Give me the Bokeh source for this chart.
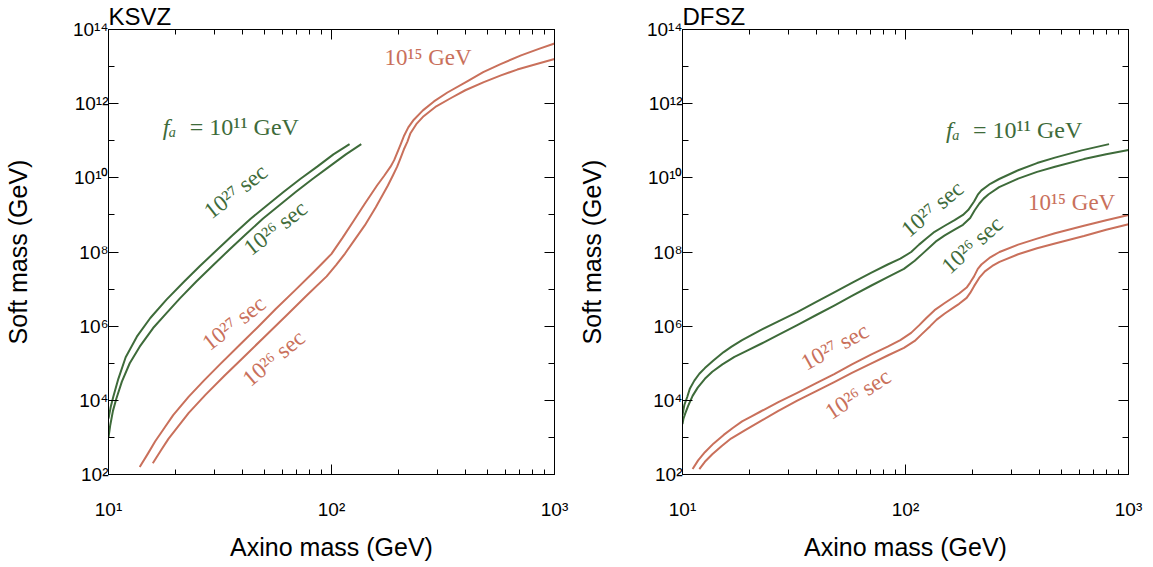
import math
from bokeh.plotting import figure
from bokeh.models import Range1d, LogAxis, FixedTicker, CustomJSTickFormatter, Label, Title
from bokeh.layouts import row
from bokeh.embed import file_html
from bokeh.resources import INLINE

GREEN = "#3e6b3a"
ORANGE = "#c9705b"

# ---------------- data (axino mass GeV, soft mass GeV) ----------------
# KSVZ, f_a = 1e11 GeV
ksvz_g27_mass = [10.0, 10.23, 10.5, 11.07, 11.94, 13.4, 15.4, 18.2, 21.8, 25.7, 30.7, 36.3, 43.4, 51.3, 61.1, 72.4, 86.3, 102, 120.5]
ksvz_g27_soft = [3.2e3, 6.6e3, 1.23e4, 3.8e4, 1.45e5, 5.2e5, 1.66e6, 5.2e6, 1.58e7, 4.2e7, 1.15e8, 2.95e8, 7.9e8, 1.8e9, 4.2e9, 9.3e9, 2.0e10, 4.3e10, 8.1e10]
ksvz_g26_mass = [10.0, 10.19, 10.47, 10.84, 11.48, 12.45, 13.8, 15.85, 18.2, 20.9, 24.7, 29.2, 34.8, 41.2, 49.2, 58.2, 69.3, 82.2, 97.7, 116, 136]
ksvz_g26_soft = [1.0e3, 2.2e3, 5.2e3, 1.1e4, 3.2e4, 1.0e5, 2.8e5, 8.9e5, 2.24e6, 5.6e6, 1.58e7, 4.2e7, 1.15e8, 2.95e8, 7.9e8, 1.8e9, 4.2e9, 9.3e9, 2.0e10, 4.3e10, 8.1e10]
# KSVZ, f_a = 1e15 GeV
ksvz_o27_mass = [13.8, 15.0, 16.2, 17.8, 19.5, 22.9, 26.9, 31.6, 38.5, 46.8, 56.2, 68.4, 83.2, 93.3, 100, 112, 126, 141, 160, 172, 184, 191, 197, 204, 211, 221, 234, 257, 288, 331, 406, 479, 573, 708, 851, 1000]
ksvz_o27_soft = [1.6e2, 3.6e2, 7.9e2, 1.8e3, 4.0e3, 1.26e4, 3.5e4, 9.3e4, 3.0e5, 9.5e5, 2.9e6, 9.1e6, 2.9e7, 5.8e7, 8.9e7, 2.4e8, 7.1e8, 2.0e9, 6.2e9, 1.12e10, 2.0e10, 3.0e10, 4.7e10, 7.9e10, 1.32e11, 2.3e11, 3.7e11, 6.6e11, 1.15e12, 2.0e12, 4.0e12, 7.1e12, 1.17e13, 2.0e13, 3.0e13, 4.2e13]
ksvz_o26_mass = [15.8, 17.2, 18.6, 20.7, 22.9, 27.2, 33.1, 39.8, 50.1, 63.1, 77.6, 95.1, 105, 115, 126, 141, 158, 179, 188, 197, 204, 211, 219, 226, 240, 259, 295, 342, 398, 482, 575, 681, 832, 1000]
ksvz_o26_soft = [2.0e2, 4.5e2, 9.3e2, 2.1e3, 4.6e3, 1.4e4, 4.6e4, 1.35e5, 5.2e5, 2.0e6, 6.8e6, 2.2e7, 4.5e7, 9.1e7, 2.0e8, 5.2e8, 1.6e9, 6.2e9, 1.12e10, 2.0e10, 3.4e10, 5.8e10, 9.5e10, 1.6e11, 2.8e11, 4.6e11, 8.5e11, 1.4e12, 2.3e12, 3.8e12, 5.8e12, 8.3e12, 1.17e13, 1.6e13]

# DFSZ, f_a = 1e11 GeV
dfsz_g27_mass = [10.0, 10.1, 10.2, 10.5, 10.8, 11.3, 11.9, 12.6, 13.8, 15.3, 16.6, 18.5, 22.4, 26.9, 32.7, 39.8, 47.9, 57.5, 70.0, 83.2, 94.8, 106, 115, 124, 135, 150, 166, 181, 191, 203, 211, 219, 240, 263, 320, 389, 468, 617, 818]
dfsz_g27_soft = [4.0e3, 5.6e3, 7.6e3, 1.23e4, 2.1e4, 3.4e4, 5.2e4, 7.4e4, 1.2e5, 2.0e5, 2.8e5, 4.2e5, 7.8e5, 1.35e6, 2.4e6, 4.5e6, 8.1e6, 1.48e7, 2.75e7, 4.6e7, 6.6e7, 1.0e8, 1.58e8, 2.3e8, 3.5e8, 5.1e8, 7.2e8, 1.0e9, 1.35e9, 2.3e9, 3.5e9, 4.6e9, 6.9e9, 9.3e9, 1.6e10, 2.5e10, 3.5e10, 5.5e10, 8.1e10]
dfsz_g26_mass = [10.0, 10.1, 10.3, 10.6, 11.1, 11.7, 12.6, 13.6, 15.1, 17.1, 19.5, 22.4, 26.9, 32.7, 39.8, 47.9, 57.5, 70.0, 83.2, 98.4, 110, 119, 129, 138, 150, 166, 181, 195, 204, 214, 224, 236, 263, 320, 389, 468, 631, 794, 1000]
dfsz_g26_soft = [2.3e3, 3.2e3, 4.5e3, 7.1e3, 1.32e4, 2.2e4, 3.8e4, 5.9e4, 9.3e4, 1.48e5, 2.2e5, 3.3e5, 5.8e5, 1.07e6, 2.0e6, 3.6e6, 6.6e6, 1.23e7, 2.1e7, 3.5e7, 5.8e7, 8.9e7, 1.38e8, 2.0e8, 2.8e8, 4.0e8, 5.4e8, 8.3e8, 1.32e9, 2.0e9, 2.75e9, 3.6e9, 5.6e9, 9.5e9, 1.45e10, 2.0e10, 3.2e10, 4.3e10, 5.6e10]
# DFSZ, f_a = 1e15 GeV
dfsz_o27_mass = [11.1, 11.75, 12.6, 13.8, 15.3, 16.8, 18.5, 20.4, 22.4, 26.9, 32.7, 39.8, 47.9, 57.5, 70.0, 83.2, 94.8, 106, 115, 124, 135, 150, 166, 174, 188, 195, 203, 211, 219, 240, 264, 320, 389, 468, 631, 794, 1000]
dfsz_o27_soft = [1.4e2, 2.4e2, 4.0e2, 6.9e2, 1.17e3, 1.8e3, 2.7e3, 3.7e3, 5.0e3, 8.9e3, 1.58e4, 2.9e4, 5.1e4, 9.3e4, 1.7e5, 2.8e5, 4.2e5, 6.6e5, 1.05e6, 1.66e6, 2.7e6, 4.2e6, 6.3e6, 7.6e6, 1.1e7, 1.5e7, 2.2e7, 3.5e7, 4.6e7, 7.2e7, 1.0e8, 1.58e8, 2.3e8, 3.2e8, 5.1e8, 7.2e8, 1.0e9]
dfsz_o26_mass = [11.9, 12.6, 13.6, 15.0, 16.5, 19.1, 22.4, 26.9, 32.7, 39.8, 47.9, 57.5, 70.0, 83.2, 98.4, 110, 119, 129, 138, 150, 166, 174, 188, 195, 203, 214, 227, 245, 264, 320, 389, 468, 631, 794, 1000]
dfsz_o26_soft = [1.4e2, 2.2e2, 3.5e2, 5.9e2, 9.3e2, 1.58e3, 2.75e3, 5.2e3, 9.8e3, 1.78e4, 3.1e4, 5.5e4, 9.8e4, 1.62e5, 2.6e5, 4.0e5, 6.3e5, 1.0e6, 1.5e6, 2.2e6, 3.3e6, 4.0e6, 5.8e6, 7.9e6, 1.2e7, 2.0e7, 3.0e7, 4.2e7, 5.4e7, 8.7e7, 1.26e8, 1.7e8, 2.7e8, 4.0e8, 5.6e8]

# tick values
x_major = [10, 100, 1000]
x_minor = [20, 30, 40, 50, 60, 70, 80, 90, 200, 300, 400, 500, 600, 700, 800, 900]
y_major = [1e2, 1e4, 1e6, 1e8, 1e10, 1e12, 1e14]
y_minor = [1e3, 1e5, 1e7, 1e9, 1e11, 1e13]

# annotation texts and anchor points (data units)
ksvz_label_text = ["10\u00b9\u2075 GeV", "10\u00b2\u2077 sec", "10\u00b2\u2076 sec", "10\u00b2\u2077 sec", "10\u00b2\u2076 sec"]
ksvz_label_x = [271, 37.2, 56.1, 36.5, 55.1]
ksvz_label_y = [1.76e13, 4.3e9, 4.4e8, 1.2e6, 1.37e5]
ksvz_label_angle = [0, 38, 38, 38, 40]
ksvz_label_color = [ORANGE, GREEN, GREEN, ORANGE, ORANGE]
ksvz_fa_x, ksvz_fa_y = 17.5, 2.3e11

dfsz_label_text = ["10\u00b9\u2075 GeV", "10\u00b2\u2077 sec", "10\u00b2\u2076 sec", "10\u00b2\u2077 sec", "10\u00b2\u2076 sec"]
dfsz_label_x = [556, 132, 199, 48.2, 61.2]
dfsz_label_y = [2.16e9, 1.45e9, 1.55e8, 2.8e5, 1.47e4]
dfsz_label_angle = [0, 40, 42, 29, 33]
dfsz_label_color = [ORANGE, GREEN, GREEN, ORANGE, ORANGE]
dfsz_fa_x, dfsz_fa_y = 152, 2.0e11

SUP_CODE = """
const sup = {'0':'\u2070','1':'\u00b9','2':'\u00b2','3':'\u00b3','4':'\u2074','5':'\u2075','6':'\u2076','7':'\u2077','8':'\u2078','9':'\u2079'};
const e = Math.round(Math.log10(tick));
return '10' + String(e).split('').map(c => sup[c]).join('');
"""

SANS = "Liberation Sans"
SERIF = "Liberation Serif"


def style_axis(ax, major_len, minor_len):
    ax.major_tick_in = major_len
    ax.major_tick_out = 0
    ax.minor_tick_in = minor_len
    ax.minor_tick_out = 0
    ax.axis_line_color = "black"
    ax.major_tick_line_color = "black"
    ax.minor_tick_line_color = "black"
    ax.major_label_text_font = SANS
    ax.major_label_text_font_size = "19px"
    ax.major_label_text_color = "black"
    ax.axis_label_text_font = SANS
    ax.axis_label_text_font_size = "25px"
    ax.axis_label_text_font_style = "normal"
    ax.axis_label_text_color = "black"


def make_panel(title, curves, texts, xs, ys, angles, colors, fa_x, fa_y, right_border):
    p = figure(x_axis_type="log", y_axis_type="log",
               x_range=Range1d(10, 1000), y_range=Range1d(1e2, 1e14),
               frame_width=446, frame_height=445,
               min_border_left=100, min_border_right=right_border,
               min_border_top=25, min_border_bottom=81,
               output_backend="svg", toolbar_location=None)
    p.xgrid.visible = False
    p.ygrid.visible = False
    p.outline_line_color = "black"
    p.outline_line_alpha = 1.0
    p.background_fill_color = "white"
    p.border_fill_color = "white"

    xt = FixedTicker(ticks=x_major, minor_ticks=x_minor)
    yt = FixedTicker(ticks=y_major, minor_ticks=y_minor)

    xa = p.xaxis[0]
    xa.ticker = xt
    xa.formatter = CustomJSTickFormatter(code=SUP_CODE)
    xa.axis_label = "Axino mass (GeV)"
    style_axis(xa, 10, 5)
    xa.major_label_standoff = 24
    xa.axis_label_standoff = 10

    ya = p.yaxis[0]
    ya.ticker = yt
    ya.formatter = CustomJSTickFormatter(code=SUP_CODE)
    ya.axis_label = "Soft mass (GeV)"
    style_axis(ya, 10, 6)
    ya.major_label_standoff = 0
    ya.axis_label_standoff = 38

    top = LogAxis(ticker=xt, formatter=CustomJSTickFormatter(code="return ''"))
    style_axis(top, 10, 5)
    top.major_label_text_font_size = "0px"
    top.major_label_standoff = 0
    top.axis_label_standoff = 0
    p.add_layout(top, "above")
    right = LogAxis(ticker=yt, formatter=CustomJSTickFormatter(code="return ''"))
    style_axis(right, 10, 6)
    right.major_label_text_font_size = "0px"
    right.major_label_standoff = 0
    right.axis_label_standoff = 0
    p.add_layout(right, "right")

    p.add_layout(Title(text=title, text_font=SANS, text_font_size="24px", text_font_style="normal",
                       text_color="black", align="left", offset=0, standoff=0,
                       text_line_height=0.8), "above")

    for mass, soft, color in curves:
        p.line(mass, soft, line_color=color, line_width=2, line_join="round")

    for t, x, y, a, c in zip(texts, xs, ys, angles, colors):
        p.add_layout(Label(x=x, y=y, text=t, angle=math.radians(a), text_align="center",
                           text_baseline="middle", text_color=c, text_font=SERIF,
                           text_font_size="23px"))
    p.add_layout(Label(x=fa_x, y=fa_y, text="f\u2090", text_align="left", text_baseline="middle",
                       text_color=GREEN, text_font=SERIF, text_font_style="italic",
                       text_font_size="24px"))
    p.add_layout(Label(x=fa_x, y=fa_y, x_offset=27, text="= 10\u00b9\u00b9 GeV", text_align="left",
                       text_baseline="middle", text_color=GREEN, text_font=SERIF,
                       text_font_size="24px"))
    return p


p1 = make_panel("KSVZ",
                [(ksvz_g27_mass, ksvz_g27_soft, GREEN), (ksvz_g26_mass, ksvz_g26_soft, GREEN),
                 (ksvz_o27_mass, ksvz_o27_soft, ORANGE), (ksvz_o26_mass, ksvz_o26_soft, ORANGE)],
                ksvz_label_text, ksvz_label_x, ksvz_label_y, ksvz_label_angle, ksvz_label_color,
                ksvz_fa_x, ksvz_fa_y, 20)
p2 = make_panel("DFSZ",
                [(dfsz_g27_mass, dfsz_g27_soft, GREEN), (dfsz_g26_mass, dfsz_g26_soft, GREEN),
                 (dfsz_o27_mass, dfsz_o27_soft, ORANGE), (dfsz_o26_mass, dfsz_o26_soft, ORANGE)],
                dfsz_label_text, dfsz_label_x, dfsz_label_y, dfsz_label_angle, dfsz_label_color,
                dfsz_fa_x, dfsz_fa_y, 16)

layout = row(p1, p2)
open("out.html", "w", encoding="utf-8").write(file_html(layout, INLINE))
